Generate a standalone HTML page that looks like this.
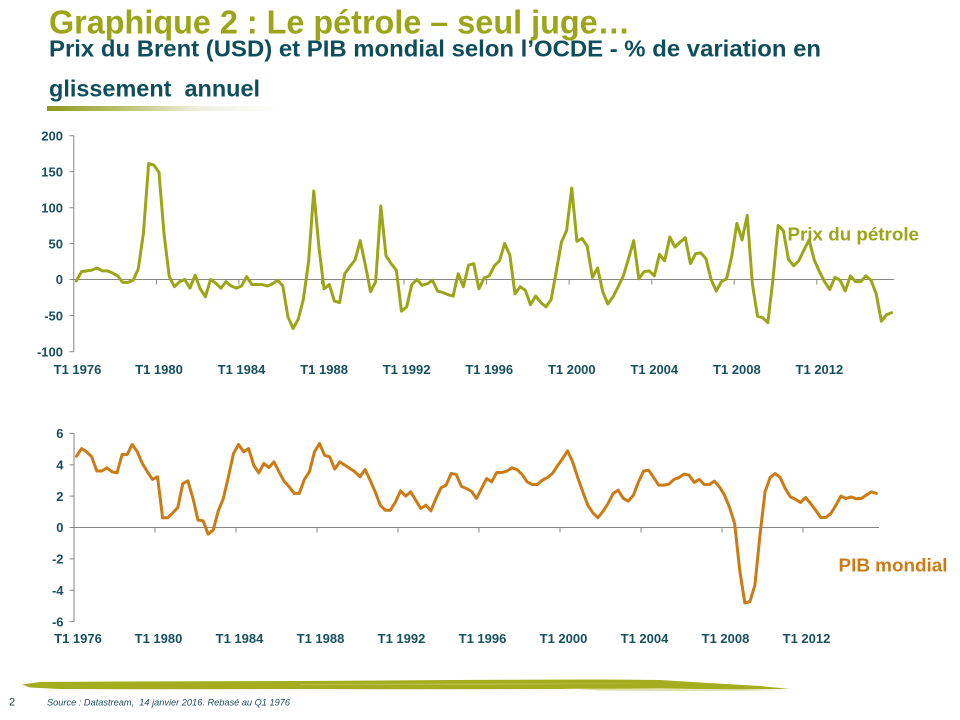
<!DOCTYPE html>
<html>
<head>
<meta charset="utf-8">
<style>
  html,body{margin:0;padding:0;background:#fff;}
  svg{display:block;}
  .ax{font-family:"Liberation Sans",Arial,sans-serif;font-weight:bold;font-size:13px;fill:#16505d;}
</style>
</head>
<body>
<svg width="960" height="720" viewBox="0 0 960 720" xmlns="http://www.w3.org/2000/svg">
  <defs>
    <linearGradient id="ul" x1="47" y1="0" x2="280" y2="0" gradientUnits="userSpaceOnUse">
      <stop offset="0" stop-color="#8e991a"/>
      <stop offset="0.35" stop-color="#bfc57a"/>
      <stop offset="0.65" stop-color="#eef0dc"/>
      <stop offset="1" stop-color="#ffffff"/>
    </linearGradient>
  </defs>
  <rect width="960" height="720" fill="#fff"/>

  <!-- Titles -->
  <text x="49" y="33.5" font-family="Liberation Sans, Arial, sans-serif" font-weight="bold" font-size="33.5" fill="#9aa618" textLength="581" lengthAdjust="spacingAndGlyphs">Graphique 2 : Le pétrole – seul juge…</text>
  <text x="49" y="56.5" font-family="Liberation Sans, Arial, sans-serif" font-weight="bold" font-size="23.5" fill="#0e4d5b" textLength="772" lengthAdjust="spacingAndGlyphs">Prix du Brent (USD) et PIB mondial selon l’OCDE - % de variation en</text>
  <text x="49" y="96.5" font-family="Liberation Sans, Arial, sans-serif" font-weight="bold" font-size="23.5" fill="#0e4d5b" textLength="211" lengthAdjust="spacingAndGlyphs" xml:space="preserve">glissement  annuel</text>
  <rect x="47" y="106" width="233" height="5" fill="url(#ul)"/>

  <!-- ===== TOP CHART ===== -->
  <g stroke="#878787" stroke-width="1" fill="none">
    <line x1="73.8" y1="135.7" x2="73.8" y2="351.7"/>
    <line x1="73.8" y1="279.5" x2="894.2" y2="279.5"/>
    <line x1="69.5" y1="135.7" x2="73.8" y2="135.7"/>
    <line x1="69.5" y1="171.7" x2="73.8" y2="171.7"/>
    <line x1="69.5" y1="207.7" x2="73.8" y2="207.7"/>
    <line x1="69.5" y1="243.6" x2="73.8" y2="243.6"/>
    <line x1="69.5" y1="279.5" x2="73.8" y2="279.5"/>
    <line x1="69.5" y1="315.6" x2="73.8" y2="315.6"/>
    <line x1="69.5" y1="351.7" x2="73.8" y2="351.7"/>
    <line x1="156.4" y1="279.5" x2="156.4" y2="284.5"/>
    <line x1="238.9" y1="279.5" x2="238.9" y2="284.5"/>
    <line x1="321.5" y1="279.5" x2="321.5" y2="284.5"/>
    <line x1="404.0" y1="279.5" x2="404.0" y2="284.5"/>
    <line x1="486.6" y1="279.5" x2="486.6" y2="284.5"/>
    <line x1="569.1" y1="279.5" x2="569.1" y2="284.5"/>
    <line x1="651.7" y1="279.5" x2="651.7" y2="284.5"/>
    <line x1="734.2" y1="279.5" x2="734.2" y2="284.5"/>
    <line x1="816.8" y1="279.5" x2="816.8" y2="284.5"/>
  </g>
  <g class="ax" text-anchor="end">
    <text x="63" y="140.4">200</text>
    <text x="63" y="176.4">150</text>
    <text x="63" y="212.4">100</text>
    <text x="63" y="248.3">50</text>
    <text x="63" y="284.2">0</text>
    <text x="63" y="320.3">-50</text>
    <text x="63" y="356.4">-100</text>
  </g>
  <g class="ax" text-anchor="middle">
    <text x="77.5" y="374">T1 1976</text>
    <text x="159" y="374">T1 1980</text>
    <text x="241.5" y="374">T1 1984</text>
    <text x="324.1" y="374">T1 1988</text>
    <text x="406.6" y="374">T1 1992</text>
    <text x="489.2" y="374">T1 1996</text>
    <text x="571.8" y="374">T1 2000</text>
    <text x="654.3" y="374">T1 2004</text>
    <text x="736.9" y="374">T1 2008</text>
    <text x="819.4" y="374">T1 2012</text>
  </g>
  <g transform="matrix(5.16 0 0 -0.72 76.4 279.5)">
    <polyline vector-effect="non-scaling-stroke" fill="none" stroke="#9aa618" stroke-width="3" stroke-linejoin="round" stroke-linecap="round"
      points="0,-2 1,11 2,12 3,13 4,16 5,12 6,12 7,9 8,5 9,-4 10,-4 11,-1 12,15 13,65 14,161 15,159 16,149 17,62 18,4 19,-10 20,-3 21,0 22,-12 23,6 24,-13 25,-24 26,0 27,-5 28,-12 29,-3 30,-9 31,-12 32,-9 33,4 34,-7 35,-7 36,-7 37,-9 38,-6 39,-1 40,-9 41,-52 42,-68 43,-55 44,-27 45,25 46,123 47,45 48,-13 49,-7 50,-30 51,-32 52,8 53,18 54,27 55,54 56,20 57,-17 58,-3 59,102 60,33 61,22 62,13 63,-44 64,-38 65,-7 66,0 67,-8 68,-6 69,-1 70,-16 71,-18 72,-21 73,-23 74,8 75,-10 76,20 77,22 78,-13 79,2 80,5 81,19 82,26 83,50 84,34 85,-20 86,-10 87,-15 88,-35 89,-23 90,-32 91,-38 92,-28 93,11 94,52 95,68 96,127 97,53 98,57 99,46 100,3 101,16 102,-17 103,-34 104,-24 105,-10 106,5 107,29 108,54 109,1 110,11 111,12 112,5 113,35 114,26 115,59 116,45 117,52 118,58 119,22 120,36 121,37 122,29 123,0 124,-16 125,-3 126,1 127,32 128,78 129,55 130,89 131,-6 132,-51 133,-53 134,-60 135,1 136,75 137,68 138,28 139,19 140,26 141,41 142,55 143,27 144,11 145,-3 146,-14 147,3 148,-1 149,-16 150,5 151,-3 152,-3 153,5 154,-1 155,-20 156,-58 157,-49 158,-46"/>
  </g>
  <text x="787.5" y="240.5" font-family="Liberation Sans, Arial, sans-serif" font-weight="bold" font-size="18.5" fill="#9aa618" textLength="131.5" lengthAdjust="spacingAndGlyphs">Prix du pétrole</text>

  <!-- ===== BOTTOM CHART ===== -->
  <g stroke="#878787" stroke-width="1" fill="none">
    <line x1="74" y1="433.3" x2="74" y2="621.7"/>
    <line x1="74" y1="527.5" x2="879" y2="527.5"/>
    <line x1="69.5" y1="433.3" x2="74" y2="433.3"/>
    <line x1="69.5" y1="464.9" x2="74" y2="464.9"/>
    <line x1="69.5" y1="496.1" x2="74" y2="496.1"/>
    <line x1="69.5" y1="527.5" x2="74" y2="527.5"/>
    <line x1="69.5" y1="558.9" x2="74" y2="558.9"/>
    <line x1="69.5" y1="590.3" x2="74" y2="590.3"/>
    <line x1="69.5" y1="621.7" x2="74" y2="621.7"/>
    <line x1="155" y1="527.5" x2="155" y2="532.5"/>
    <line x1="236" y1="527.5" x2="236" y2="532.5"/>
    <line x1="317" y1="527.5" x2="317" y2="532.5"/>
    <line x1="398" y1="527.5" x2="398" y2="532.5"/>
    <line x1="479" y1="527.5" x2="479" y2="532.5"/>
    <line x1="560" y1="527.5" x2="560" y2="532.5"/>
    <line x1="641" y1="527.5" x2="641" y2="532.5"/>
    <line x1="722" y1="527.5" x2="722" y2="532.5"/>
    <line x1="803" y1="527.5" x2="803" y2="532.5"/>
  </g>
  <g class="ax" text-anchor="end">
    <text x="63.5" y="438">6</text>
    <text x="63.5" y="469.6">4</text>
    <text x="63.5" y="500.8">2</text>
    <text x="63.5" y="532.2">0</text>
    <text x="63.5" y="563.6">-2</text>
    <text x="63.5" y="595">-4</text>
    <text x="63.5" y="626.4">-6</text>
  </g>
  <g class="ax" text-anchor="middle">
    <text x="78" y="643">T1 1976</text>
    <text x="158.5" y="643">T1 1980</text>
    <text x="239.5" y="643">T1 1984</text>
    <text x="320.5" y="643">T1 1988</text>
    <text x="401.5" y="643">T1 1992</text>
    <text x="482.5" y="643">T1 1996</text>
    <text x="563.5" y="643">T1 2000</text>
    <text x="644.5" y="643">T1 2004</text>
    <text x="725.5" y="643">T1 2008</text>
    <text x="806.5" y="643">T1 2012</text>
  </g>
  <g transform="matrix(5.0625 0 0 -15.7 76.53 527.5)">
    <polyline vector-effect="non-scaling-stroke" fill="none" stroke="#cc7b14" stroke-width="3" stroke-linejoin="round" stroke-linecap="round"
      points="0,4.54 1,5.03 2,4.82 3,4.5 4,3.6 5,3.6 6,3.8 7,3.55 8,3.48 9,4.65 10,4.65 11,5.29 12,4.82 13,4.08 14,3.55 15,3.06 16,3.23 17,0.62 18,0.62 19,0.93 20,1.27 21,2.8 22,2.97 23,1.85 24,0.47 25,0.42 26,-0.42 27,-0.17 28,1.06 29,1.85 30,3.23 31,4.71 32,5.29 33,4.82 34,5.03 35,3.97 36,3.48 37,4.08 38,3.82 39,4.18 40,3.55 41,2.95 42,2.59 43,2.17 44,2.17 45,3.06 46,3.55 47,4.82 48,5.35 49,4.6 50,4.5 51,3.72 52,4.18 53,3.97 54,3.76 55,3.55 56,3.23 57,3.69 58,3.01 59,2.27 60,1.42 61,1.1 62,1.1 63,1.63 64,2.34 65,2.0 66,2.27 67,1.74 68,1.21 69,1.42 70,1.06 71,1.85 72,2.53 73,2.7 74,3.44 75,3.38 76,2.63 77,2.48 78,2.31 79,1.85 80,2.48 81,3.12 82,2.91 83,3.5 84,3.5 85,3.59 86,3.8 87,3.69 88,3.38 89,2.91 90,2.74 91,2.74 92,3.01 93,3.18 94,3.44 95,3.93 96,4.39 97,4.88 98,4.18 99,3.18 100,2.27 101,1.42 102,0.93 103,0.62 104,1.04 105,1.53 106,2.17 107,2.38 108,1.85 109,1.68 110,2.06 111,2.9 112,3.59 113,3.65 114,3.18 115,2.7 116,2.7 117,2.76 118,3.06 119,3.18 120,3.4 121,3.33 122,2.87 123,3.06 124,2.74 125,2.74 126,2.95 127,2.59 128,2.06 129,1.27 130,0.25 131,-2.72 132,-4.8 133,-4.73 134,-3.67 135,-0.49 136,2.27 137,3.18 138,3.44 139,3.18 140,2.48 141,1.95 142,1.8 143,1.59 144,1.91 145,1.53 146,1.1 147,0.64 148,0.64 149,0.89 150,1.42 151,2.0 152,1.85 153,1.95 154,1.83 155,1.85 156,2.06 157,2.27 158,2.17"/>
  </g>
  <text x="838.5" y="571.5" font-family="Liberation Sans, Arial, sans-serif" font-weight="bold" font-size="18.5" fill="#cc7b14" textLength="109" lengthAdjust="spacingAndGlyphs">PIB mondial</text>

  <!-- ===== FOOTER ===== -->
  <polygon points="22,684.5 40,682 120,681.5 300,681 450,680 600,679.5 660,680 700,682.5 760,686 790,689 740,689.5 660,688.5 560,689 420,689.3 300,689 160,689.3 60,689 30,687.5" fill="#a3ad1e"/>
  <polygon points="300,684 500,683.5 650,683.8 500,684.6 300,684.8" fill="#c4ca6a" opacity="0.8"/>
  <polygon points="560,688 700,689.5 790,690.5 700,691 600,690.5" fill="#c9cf7a" opacity="0.7"/>
  <text x="9" y="705.5" font-family="Liberation Sans, Arial, sans-serif" font-size="11" fill="#2a3d45">2</text>
  <text x="47" y="705.5" font-family="Liberation Sans, Arial, sans-serif" font-style="italic" font-size="9.5" fill="#1b4b5a" textLength="243" lengthAdjust="spacingAndGlyphs" xml:space="preserve">Source : Datastream,  14 janvier 2016. Rebasé au Q1 1976</text>
</svg>
</body>
</html>
